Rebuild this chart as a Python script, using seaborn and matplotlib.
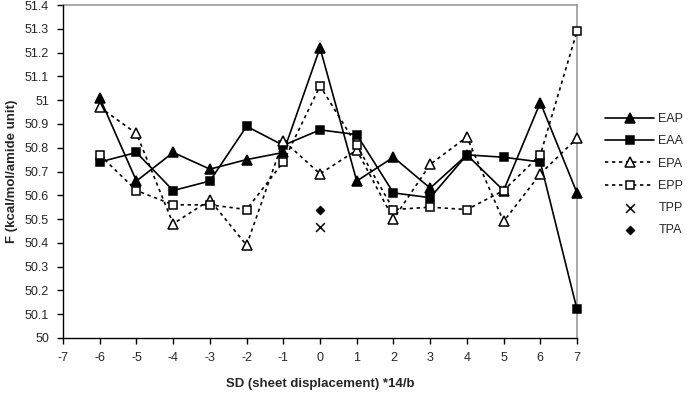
import numpy as np
import pandas as pd
import seaborn as sns
import matplotlib
matplotlib.use("Agg")
import matplotlib.pyplot as plt

# data
sd = [-6, -5, -4, -3, -2, -1, 0, 1, 2, 3, 4, 5, 6, 7]
eap = [51.01, 50.66, 50.78, 50.71, 50.75, 50.78, 51.22, 50.66, 50.76, 50.63, 50.77, 50.62, 50.99, 50.61]
eaa = [50.74, 50.78, 50.62, 50.66, 50.89, 50.81, 50.875, 50.855, 50.61, 50.59, 50.77, 50.76, 50.74, 50.12]
epa = [50.97, 50.86, 50.48, 50.58, 50.39, 50.83, 50.69, 50.79, 50.50, 50.73, 50.845, 50.49, 50.69, 50.84]
epp = [50.77, 50.62, 50.56, 50.56, 50.54, 50.74, 51.06, 50.81, 50.54, 50.55, 50.54, 50.62, 50.77, 51.29]
tpp_x, tpp_y = [0], [50.465]
tpa_x, tpa_y = [0], [50.54]

sns.set_style("white")
plt.rcParams['font.family'] = ['Liberation Sans', 'DejaVu Sans']
plt.rcParams['axes.unicode_minus'] = False

fig = plt.figure(figsize=(6.88, 4.0), dpi=100)
ax = fig.add_axes([0.0916, 0.155, 0.7471, 0.8325])

dot = (0, (2, 2.2))
series = [
    ("EAP", eap, "-", "^", "black", 7),
    ("EAA", eaa, "-", "s", "black", 6.3),
    ("EPA", epa, dot, "^", "white", 7),
    ("EPP", epp, dot, "s", "white", 6.3),
]
for name, vals, ls, mk, fc, ms in series:
    df = pd.DataFrame({"SD": sd, "F": vals})
    sns.lineplot(data=df, x="SD", y="F", ax=ax, color="black", linestyle=ls,
                 linewidth=1.2, marker=mk, markersize=ms, markerfacecolor=fc,
                 markeredgecolor="black", markeredgewidth=1.1, label=name,
                 clip_on=False, zorder=3)

sns.scatterplot(x=tpp_x, y=tpp_y, ax=ax, marker="x", color="black", s=40,
                linewidth=1.1, label="TPP")
sns.scatterplot(x=tpa_x, y=tpa_y, ax=ax, marker="D", color="black", s=22,
                edgecolor="black", label="TPA")

ax.set_xlim(-7, 7)
ax.set_ylim(50, 51.4)
ax.set_xticks(range(-7, 8))
ax.set_yticks(np.arange(50, 51.41, 0.1))
ax.set_yticklabels(["50", "50.1", "50.2", "50.3", "50.4", "50.5", "50.6", "50.7",
                    "50.8", "50.9", "51", "51.1", "51.2", "51.3", "51.4"])
ax.tick_params(axis="both", direction="out", length=4, width=1, color="black",
               labelsize=9, bottom=True, left=True, pad=6)

for side in ["left", "bottom"]:
    ax.spines[side].set_color("black")
    ax.spines[side].set_linewidth(1)
for side in ["top", "right"]:
    ax.spines[side].set_visible(True)
    ax.spines[side].set_color("#999999")
    ax.spines[side].set_linewidth(1.2)
    ax.spines[side].set_zorder(1)

ax.set_xlabel("SD (sheet displacement) *14/b", fontsize=9.5, fontweight="bold", labelpad=10)
ax.set_ylabel("F (kcal/mol/amide unit)", fontsize=9.5, fontweight="bold", labelpad=5)

ax.legend(loc="upper left", bbox_to_anchor=(1.045, 0.69), frameon=False,
          fontsize=9, handlelength=3.9, handletextpad=0.35, labelspacing=0.82,
          borderaxespad=0)

fig.savefig("out.png", dpi=100)
